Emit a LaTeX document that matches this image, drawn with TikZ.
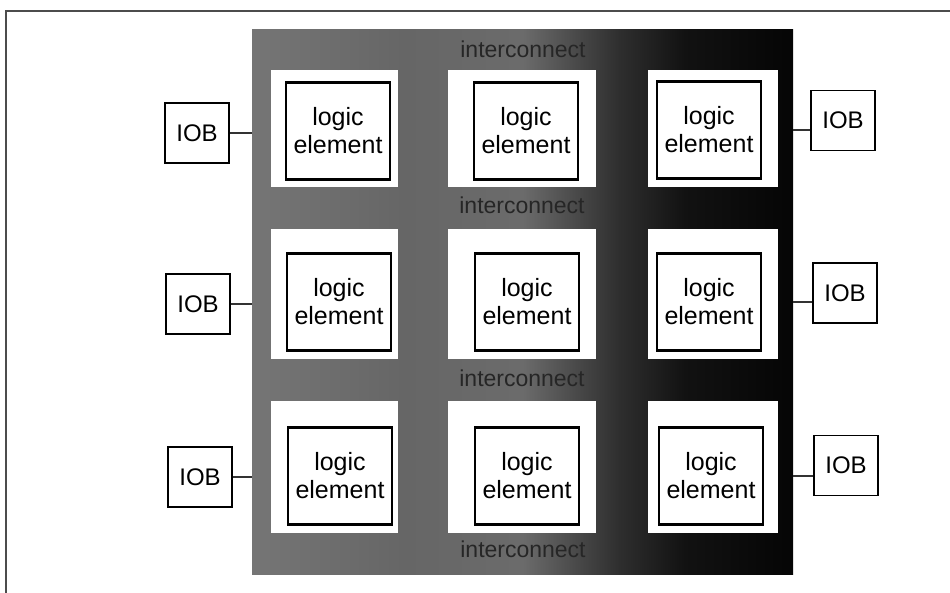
\documentclass[tikz,border=0pt]{standalone}
\usepackage{fontspec}
\setmainfont{Liberation Sans}
\definecolor{c0}{gray}{0.46}
\definecolor{c1}{gray}{0.40}
\definecolor{c2}{gray}{0.42}
\definecolor{c3}{gray}{0.18}
\definecolor{c4}{gray}{0.07}
\definecolor{c5}{gray}{0.02}
\pgfdeclarehorizontalshading{icshade}{100bp}{color(0bp)=(c0); color(25bp)=(c0); color(39bp)=(c1); color(50bp)=(c2); color(59bp)=(c3); color(65bp)=(c4); color(75bp)=(c5); color(100bp)=(c5)}
\begin{document}
\begin{tikzpicture}[x=1pt,y=-1pt,
  tile/.style={fill=white, draw=none, inner sep=0pt},
  logicbox/.style={draw=black, line width=2.2pt, fill=white, minimum width=104pt, minimum height=97pt, inner sep=0pt, align=center, font=\fontsize{25}{28}\selectfont},
  iob/.style={draw=black, line width=1.8pt, fill=white, minimum width=64pt, minimum height=60pt, inner sep=0pt, font=\fontsize{24}{24}\selectfont},
  iclabel/.style={anchor=base, font=\fontsize{23}{23}\selectfont, text=black!85, inner sep=0pt},
  wire/.style={draw=black!80, line width=1.5pt},
  frameline/.style={draw=black!70, line width=1.5pt}
]
\useasboundingbox (0,0) rectangle (950,592);
% outer frame (cut by picture edge)
\draw[frameline] (6,600) -- (6,11) -- (960,11);
% interconnect field
\node[shade, shading=icshade, minimum width=541pt, minimum height=545pt, inner sep=0pt] (field) at (522.5,301.5) {};
% white tiles
\node[tile, minimum width=127pt, minimum height=117pt] (t11) at (334,128.5) {};
\node[tile, minimum width=148pt, minimum height=117pt] (t12) at (522,128.5) {};
\node[tile, minimum width=130pt, minimum height=117pt] (t13) at (713,128.5) {};
\node[tile, minimum width=127pt, minimum height=130pt] (t21) at (334,294) {};
\node[tile, minimum width=148pt, minimum height=130pt] (t22) at (522,294) {};
\node[tile, minimum width=130pt, minimum height=130pt] (t23) at (713,294) {};
\node[tile, minimum width=127pt, minimum height=132pt] (t31) at (334,467) {};
\node[tile, minimum width=148pt, minimum height=132pt] (t32) at (522,467) {};
\node[tile, minimum width=130pt, minimum height=132pt] (t33) at (713,467) {};
% interconnect labels
\node[iclabel] (ic1) at (523,57) {interconnect};
\node[iclabel] (ic2) at (522,213) {interconnect};
\node[iclabel] (ic3) at (522,386) {interconnect};
\node[iclabel] (ic4) at (523,557) {interconnect};
% logic elements
\node[logicbox] (le11) at (338,131) {logic\\element};
\node[logicbox] (le12) at (526,131) {logic\\element};
\node[logicbox] (le13) at (709,130) {logic\\element};
\node[logicbox] (le21) at (339,302) {logic\\element};
\node[logicbox] (le22) at (527,302) {logic\\element};
\node[logicbox] (le23) at (709,302) {logic\\element};
\node[logicbox] (le31) at (340,476) {logic\\element};
\node[logicbox] (le32) at (527,476) {logic\\element};
\node[logicbox] (le33) at (711,476) {logic\\element};
% IOBs
\node[iob] (iobL1) at (197,133) {IOB};
\node[iob] (iobL2) at (198,304) {IOB};
\node[iob] (iobL3) at (200,477) {IOB};
\node[iob] (iobR1) at (843,120.5) {IOB};
\node[iob] (iobR2) at (845,293) {IOB};
\node[iob] (iobR3) at (846,465.5) {IOB};
% connectors
\draw[wire] (iobL1.east) -- (iobL1.east -| field.west);
\draw[wire] (iobL2.east) -- (iobL2.east -| field.west);
\draw[wire] (iobL3.east) -- (iobL3.east -| field.west);
\draw[wire] (field.east |- le13.center) -- (iobR1.west |- le13.center);
\draw[wire] (field.east |- le23.center) -- (iobR2.west |- le23.center);
\draw[wire] (field.east |- le33.center) -- (iobR3.west |- le33.center);
\end{tikzpicture}
\end{document}
